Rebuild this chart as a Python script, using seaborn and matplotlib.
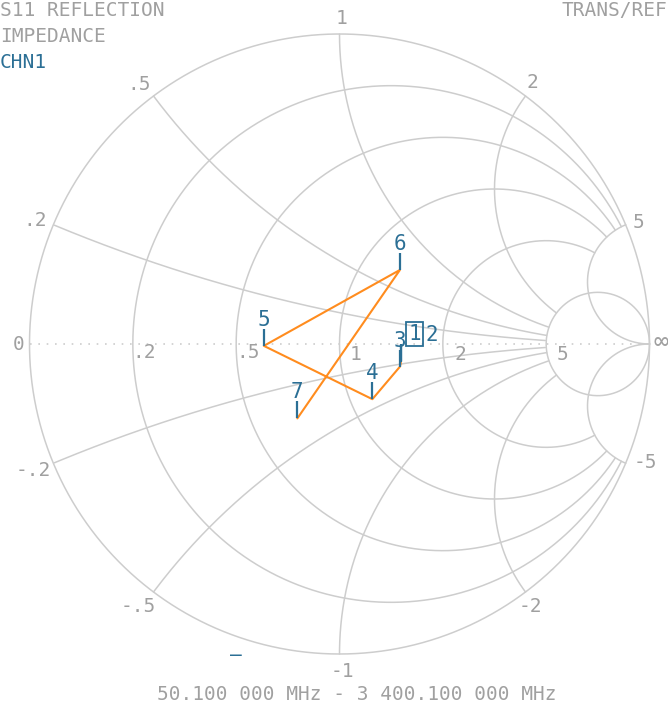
import numpy as np
import pandas as pd
import matplotlib
matplotlib.use("Agg")
import matplotlib.pyplot as plt
from matplotlib.path import Path
import seaborn as sns

# ---- marker data (reflection coefficient, real / imaginary part) ----
marker_ids = ["1", "2", "3", "4", "5", "6", "7"]
gamma_re = [0.198, 0.198, 0.195, 0.106, -0.244, 0.195, -0.136]
gamma_im = [-0.055, -0.058, -0.073, -0.178, -0.006, 0.239, -0.240]

# ---- Smith grid values ----
resistances = [0.2, 0.5, 1.0, 2.0, 5.0]
reactances = [0.2, 0.5, 1.0, 2.0, 5.0]
real_axis_labels = [".2", ".5", "1", "2", "5"]
rim_labels_pos = [".2", ".5", "1", "2", "5"]
rim_labels_neg = ["-.2", "-.5", "-1", "-2", "-5"]

header_lines = ["S11 REFLECTION", "IMPEDANCE"]
channel_label = "CHN1"
ref_label = "TRANS/REF"
span_label = "50.100 000 MHz - 3 400.100 000 MHz"

GRID = "#cdcdcd"
TEXT = "#a0a0a0"
BLUE = "#2b6f95"
ORANGE = "#ff8c1e"
FONT = "DejaVu Sans Mono"

sns.set_theme(style="white")
plt.rcParams["font.family"] = [FONT, "DejaVu Sans"]

W, H = 668, 707
CX, CY, R = 339.5, 344.0, 310.0

fig = plt.figure(figsize=(W / 100, H / 100), dpi=100)
ax = fig.add_axes([0, 0, 1, 1])
ax.set_xlim(-CX / R, (W - CX) / R)
ax.set_ylim(-(H - CY) / R, CY / R)
ax.set_aspect("auto")
ax.axis("off")


def px(x, y):
    """pixel position -> chart coordinates"""
    return (x - CX) / R, -(y - CY) / R


theta = np.linspace(0, 2 * np.pi, 6000)


def z_of(g):
    with np.errstate(divide="ignore", invalid="ignore"):
        return (1 + g) / (1 - g)


# outer circle
ax.plot(np.cos(theta), np.sin(theta), color=GRID, lw=1.1)

# constant-resistance circles, clipped at |x| = 5 (except r = 5)
for r in resistances:
    c, rad = r / (r + 1), 1 / (r + 1)
    g = c + rad * np.exp(1j * theta)
    z = z_of(g)
    keep = np.isfinite(z)
    if r < 5:
        keep &= np.abs(z.imag) <= 5.0001
    gx = np.where(keep, g.real, np.nan)
    gy = np.where(keep, g.imag, np.nan)
    ax.plot(gx, gy, color=GRID, lw=1.1)

# constant-reactance arcs, clipped at r = 5 (except |x| = 5)
for xv in reactances:
    for s in (1, -1):
        x = s * xv
        g = (1 + 1j / x) + (1 / xv) * np.exp(1j * theta)
        z = z_of(g)
        keep = (np.abs(g) <= 1.0005) & np.isfinite(z)
        if xv < 5:
            keep &= z.real <= 5.0001
        gx = np.where(keep, g.real, np.nan)
        gy = np.where(keep, g.imag, np.nan)
        ax.plot(gx, gy, color=GRID, lw=1.1)

# dotted real axis
ax.plot([-1, 1], [0, 0], color=GRID, lw=1.2, ls=(0, (1, 4)))

# ---- grid labels ----
def label(xp, yp, s, color=TEXT, size=14, **kw):
    x, y = px(xp, yp)
    ax.text(x, y, s, color=color, fontsize=size, ha="center", va="center",
            family=FONT, **kw)


for s, (xp, yp) in zip(real_axis_labels,
                       [(144, 353), (248, 353), (356, 355), (460, 355), (563, 355)]):
    label(xp, yp, s)
for s, (xp, yp) in zip(rim_labels_pos,
                       [(35, 221), (139, 84), (342, 18), (532, 83), (638, 223)]):
    label(xp, yp, s)
for s, (xp, yp) in zip(rim_labels_neg,
                       [(33, 470), (138, 606), (342, 671), (530, 606), (645, 463)]):
    label(xp, yp, s)
label(19, 345, "0")
label(661, 342, "\u221e", size=18)

# ---- trace ----
trace = pd.DataFrame({"re": gamma_re, "im": gamma_im})
sns.lineplot(data=trace, x="re", y="im", sort=False, estimator=None,
             color=ORANGE, lw=1.5, ax=ax)

# marker ticks (vertical stroke rising from each marker point)
tick = Path([(0, 0), (0, 1)], [Path.MOVETO, Path.LINETO])
ax.plot(gamma_re, gamma_im, ls="none", marker=tick, ms=24,
        mec=BLUE, mew=1.6)

# marker numbers
label_offsets = {"1": (14, 27), "2": (31, 27)}
for mid, gx, gy in zip(marker_ids, gamma_re, gamma_im):
    dx, dy = label_offsets.get(mid, (0, 26))
    kw = {}
    if mid == "1":
        kw["bbox"] = dict(boxstyle="square,pad=0.1", fc="none", ec=BLUE, lw=1.3)
    ax.annotate(mid, (gx, gy), xytext=(dx, dy), textcoords="offset pixels",
                color=BLUE, fontsize=15, ha="center", va="center",
                family=FONT, **kw)

# ---- header / footer text ----
def ftext(xp, yp, s, color=TEXT, ha="left", size=14):
    fig.text(xp / W, 1 - yp / H, s, color=color, fontsize=size, ha=ha,
             va="center", family=FONT)


ftext(0, 11, header_lines[0])
ftext(0, 37, header_lines[1])
ftext(0, 62, channel_label, color=BLUE)
ftext(667, 11, ref_label, ha="right")
ftext(357, 694, span_label, ha="center")
ftext(236, 655, "\u2013", color=BLUE, ha="center")

fig.savefig("out.png", dpi=100)
